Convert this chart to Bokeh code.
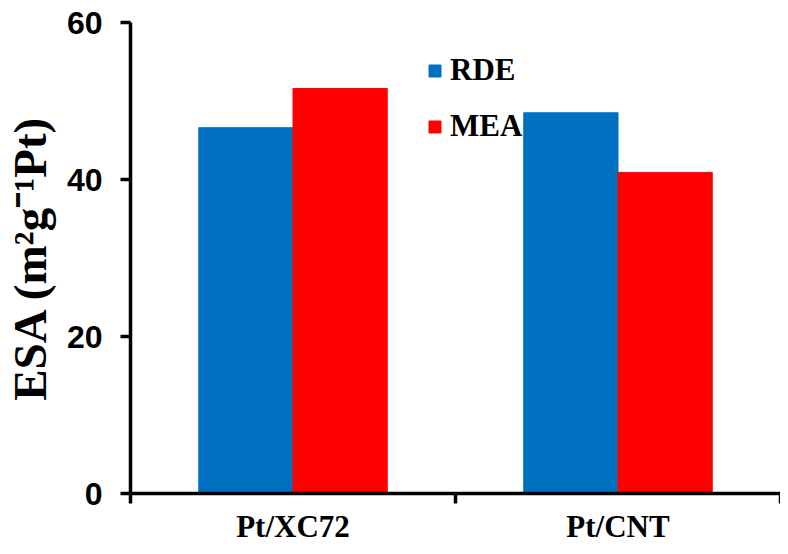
from bokeh.plotting import figure
from bokeh.models import Range1d, FixedTicker, ColumnDataSource, Legend, LegendItem
from bokeh.embed import file_html
from bokeh.resources import INLINE

categories = ["Pt/XC72", "Pt/CNT"]
rde = [46.6, 48.5]
mea = [51.6, 40.9]
y_ticks = [0, 20, 40, 60]
y_title = "ESA (m²g⁻¹Pt)"

bar_w = 0.29
idx = list(range(len(categories)))
src = ColumnDataSource(dict(
    x_rde=[i + 0.5 - bar_w / 2 for i in idx],
    x_mea=[i + 0.5 + bar_w / 2 for i in idx],
    rde=rde, mea=mea,
))

p = figure(width=780, height=546, output_backend="svg", toolbar_location=None,
           x_range=Range1d(0, len(categories)), y_range=Range1d(0, 60),
           min_border_left=130, min_border_right=0, min_border_top=22, min_border_bottom=51)
p.outline_line_color = None
p.xgrid.visible = False
p.ygrid.visible = False
p.background_fill_color = "white"
p.border_fill_color = "white"

r1 = p.vbar(x="x_rde", top="rde", width=bar_w, source=src, fill_color="#0070C0", line_color="#0070C0")
r2 = p.vbar(x="x_mea", top="mea", width=bar_w, source=src, fill_color="#FF0000", line_color="#FF0000")

# x axis: labels at category centres, tick marks at category boundaries
xa = p.xaxis[0]
xa.ticker = FixedTicker(ticks=[i + 0.5 for i in idx], minor_ticks=list(range(len(categories) + 1)))
xa.major_label_overrides = {i + 0.5: c for i, c in zip(idx, categories)}
xa.major_tick_line_color = None
xa.major_tick_out = 0
xa.major_tick_in = 0
xa.minor_tick_line_color = "black"
xa.minor_tick_line_width = 3.5
xa.minor_tick_out = 10
xa.minor_tick_in = 0
xa.axis_line_width = 3.5
xa.axis_line_color = "black"
xa.major_label_standoff = 5
xa.major_label_text_font = "Liberation Serif"
xa.major_label_text_font_style = "bold"
xa.major_label_text_font_size = "31px"
xa.major_label_text_color = "black"

# y axis
ya = p.yaxis[0]
ya.ticker = FixedTicker(ticks=y_ticks, minor_ticks=[])
ya.axis_line_width = 3.5
ya.axis_line_color = "black"
ya.major_tick_line_width = 3.5
ya.major_tick_out = 10
ya.major_tick_in = 0
ya.minor_tick_line_color = None
ya.major_label_standoff = 18
ya.major_label_text_font = "Liberation Sans"
ya.major_label_text_font_style = "bold"
ya.major_label_text_font_size = "32px"
ya.major_label_text_color = "black"
ya.axis_label = y_title
ya.axis_label_text_font = "Liberation Serif"
ya.axis_label_text_font_style = "bold"
ya.axis_label_text_font_size = "47px"
ya.axis_label_text_color = "black"
ya.axis_label_standoff = 8

legend = Legend(items=[LegendItem(label="RDE", renderers=[r1]),
                       LegendItem(label="MEA", renderers=[r2])],
                location=(297, 349))
legend.border_line_color = None
legend.background_fill_alpha = 0
legend.padding = 0
legend.margin = 0
legend.glyph_width = 15
legend.glyph_height = 15
legend.label_standoff = 8
legend.label_text_font = "Liberation Serif"
legend.label_text_font_style = "bold"
legend.label_text_font_size = "31px"
legend.label_text_color = "black"
legend.label_height = 30
legend.spacing = 20
p.add_layout(legend, "center")

open("out.html", "w").write(file_html(p, INLINE))
